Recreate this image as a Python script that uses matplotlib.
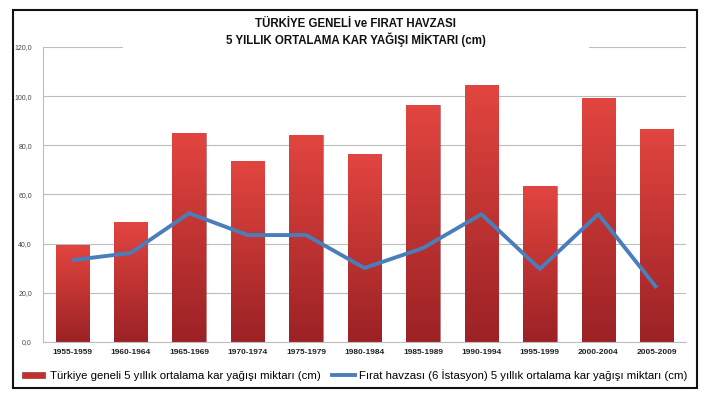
"""Türkiye geneli ve Fırat havzası 5 yıllık ortalama kar yağışı grafiği."""

import matplotlib

matplotlib.use("Agg")

import matplotlib.pyplot as plt
import numpy as np
from matplotlib.colors import LinearSegmentedColormap
from matplotlib.lines import Line2D
from matplotlib.patches import Patch, Rectangle
from matplotlib.ticker import FuncFormatter, MultipleLocator


PERIODS = [
    "1955-1959", "1960-1964", "1965-1969", "1970-1974", "1975-1979", "1980-1984",
    "1985-1989", "1990-1994", "1995-1999", "2000-2004", "2005-2009",
]
TURKIYE = [39.4, 48.8, 85.0, 73.6, 84.1, 76.4, 96.3, 104.5, 63.4, 99.2, 86.6]
FIRAT = [33.3, 36.2, 52.4, 43.5, 43.5, 30.1, 38.2, 52.0, 29.7, 52.0, 22.0]

TITLE = "TÜRKİYE GENELİ ve FIRAT HAVZASI\n5 YILLIK ORTALAMA KAR YAĞIŞI MİKTARI (cm)"
LABEL_TR = "Türkiye geneli 5 yıllık ortalama kar yağışı miktarı (cm)"
LABEL_FIRAT = "Fırat havzası (6 İstasyon) 5 yıllık ortalama kar yağışı miktarı (cm)"

BAR_TOP = "#E2453F"
BAR_BOTTOM = "#9C2225"
LINE_COLOR = "#4A7EBB"
GRID_COLOR = "#BDBDBD"

plt.rcParams["font.family"] = ["Liberation Sans", "DejaVu Sans"]


def gradient_bars(ax, bars):
    cmap = LinearSegmentedColormap.from_list("bar", [BAR_BOTTOM, BAR_TOP])
    grad = np.linspace(0, 1, 128).reshape(-1, 1)
    for bar in bars:
        x0, y0 = bar.get_x(), bar.get_y()
        w, h = bar.get_width(), bar.get_height()
        img = ax.imshow(grad, cmap=cmap, origin="lower", aspect="auto",
                        extent=(x0, x0 + w, y0, y0 + h), zorder=2)
        img.set_clip_path(bar)
        bar.set_facecolor("none")
        bar.set_edgecolor("#8E1E20")
        bar.set_linewidth(0.4)


def main():
    fig = plt.figure(figsize=(7.11, 3.98), dpi=100)
    ax = fig.add_axes([43 / 711, 56 / 398, 643 / 711, 295 / 398])

    x = np.arange(len(PERIODS))
    bars = ax.bar(x, TURKIYE, width=0.57, color=BAR_TOP, zorder=2)
    gradient_bars(ax, bars)
    ax.plot(x, FIRAT, color=LINE_COLOR, linewidth=2.8, zorder=4,
            solid_capstyle="butt")

    ax.set_xlim(-0.5, len(PERIODS) - 0.5)
    ax.set_ylim(0, 120)
    ax.yaxis.set_major_locator(MultipleLocator(20))
    ax.yaxis.set_major_formatter(FuncFormatter(lambda v, _: f"{v:.1f}".replace(".", ",")))
    ax.grid(axis="y", color=GRID_COLOR, linewidth=0.8, zorder=0)
    ax.set_axisbelow(True)

    ax.set_xticks(x)
    ax.set_xticklabels(PERIODS, fontsize=6, fontweight="bold", color="#222222")
    ax.tick_params(axis="x", length=0, pad=5)
    ax.tick_params(axis="y", length=0, labelsize=5, labelcolor="#444444", pad=8)
    for side in ("top", "right"):
        ax.spines[side].set_visible(False)
    for side in ("left", "bottom"):
        ax.spines[side].set_color(GRID_COLOR)
        ax.spines[side].set_linewidth(0.8)

    # white band behind the title hides the top gridline, as in the original
    fig.add_artist(Rectangle((123 / 711, 0.86), (589 - 123) / 711, 0.1,
                             transform=fig.transFigure, facecolor="white",
                             edgecolor="none", zorder=5))
    fig.text(0.5, 1 - 32.5 / 398, TITLE, ha="center", va="center", fontsize=8.3,
             fontweight="bold", linespacing=1.25, zorder=6, color="#111111")

    handles = [
        Patch(facecolor="#C2302F", edgecolor="#8E1E20", linewidth=0.4),
        Line2D([0], [0], color=LINE_COLOR, linewidth=2.8),
    ]
    fig.legend(handles, [LABEL_TR, LABEL_FIRAT], loc="center left",
               bbox_to_anchor=(12 / 711, 1 - 375 / 398), ncol=2, frameon=False,
               fontsize=8.2, handlelength=2.0, handleheight=0.5,
               handletextpad=0.4, columnspacing=1.0)

    fig.add_artist(Rectangle((13 / 711, 10 / 398), 684 / 711, 378 / 398,
                             transform=fig.transFigure, fill=False,
                             edgecolor="#111111", linewidth=1.5, zorder=7))

    fig.savefig("out.png", dpi=100)
    plt.close(fig)


if __name__ == "__main__":
    main()
